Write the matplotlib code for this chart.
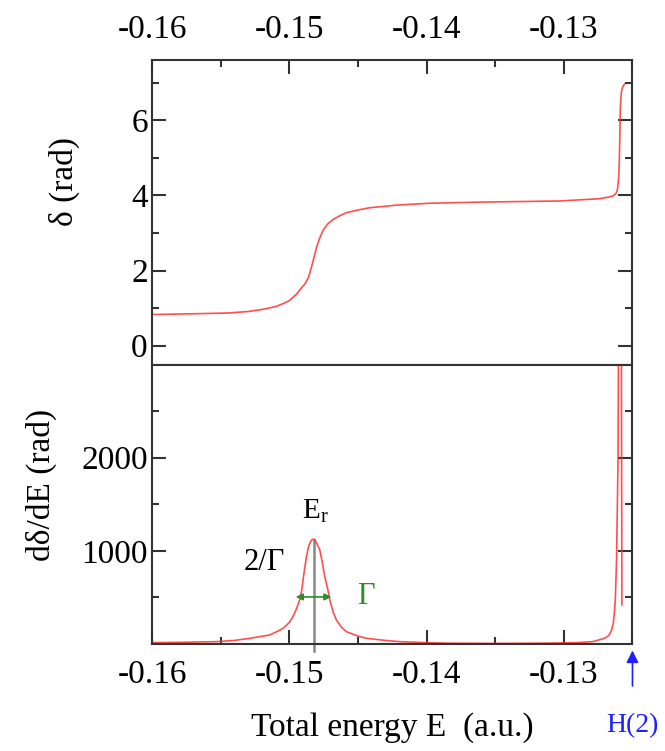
import matplotlib
matplotlib.use("Agg")
import matplotlib.pyplot as plt
from matplotlib.ticker import MultipleLocator, FixedLocator

plt.rcParams['font.family'] = ['Liberation Serif', 'DejaVu Serif']
plt.rcParams['mathtext.fontset'] = 'custom'
plt.rcParams['mathtext.rm'] = 'Liberation Serif'
plt.rcParams['mathtext.it'] = 'Liberation Serif'

# phase shift (top panel)
E_phase = [-0.1600, -0.1570, -0.1545, -0.1530, -0.1519, -0.1510, -0.15045,
           -0.1500, -0.14948, -0.1492, -0.14887, -0.1486, -0.14839, -0.1482,
           -0.14802, -0.1478, -0.14754, -0.1472, -0.14681, -0.1463, -0.14584,
           -0.1450, -0.14415, -0.1430, -0.1422, -0.13978, -0.13615, -0.13033,
           -0.12742, -0.12680, -0.12645, -0.12620, -0.12609, -0.12600, -0.12596,
           -0.12592, -0.12589, -0.12585, -0.12580, -0.12570, -0.12555]
delta = [0.83, 0.85, 0.87, 0.91, 0.97, 1.04, 1.12,
         1.20, 1.37, 1.50, 1.64, 1.82, 2.08, 2.35,
         2.61, 2.85, 3.07, 3.24, 3.36, 3.46, 3.54,
         3.61, 3.67, 3.71, 3.74, 3.79, 3.82, 3.85,
         3.91, 3.95, 3.98, 4.05, 4.16, 4.50, 4.91,
         5.60, 6.24, 6.55, 6.77, 6.90, 6.97]

# derivative d(delta)/dE (bottom panel)
E_deriv = [-0.1600, -0.1580, -0.1553, -0.1540, -0.15287, -0.15142, -0.1508,
           -0.15045, -0.1500, -0.14973, -0.1495, -0.14924, -0.1491, -0.1490,
           -0.14888, -0.14875, -0.14862, -0.14851, -0.14838, -0.14827, -0.14815,
           -0.1480, -0.14778, -0.1476, -0.14742, -0.1472, -0.14705, -0.1468,
           -0.14657, -0.1462, -0.14584, -0.1450, -0.14438, -0.1430, -0.14196,
           -0.1400, -0.13833, -0.1350, -0.1320, -0.1305, -0.12911, -0.12791,
           -0.12718, -0.12690, -0.12669, -0.12652, -0.1264, -0.12632, -0.12625,
           -0.12616, -0.12605, -0.12595, -0.12585, -0.12577]
dddE = [15, 18, 25, 38, 61, 97, 140,
        168, 230, 294, 370, 473, 570, 688,
        810, 939, 1030, 1083, 1115, 1126, 1120,
        1080, 1011, 880, 724, 590, 473, 340,
        258, 180, 132, 85, 61, 38, 25,
        14, 8, 6, 8, 10, 14, 25,
        54, 72, 97, 150, 222, 330, 473,
        903, 2000, 6000, 6000, 420]

E_r = -0.1482
peak = 1120
gamma_left = -0.14953
gamma_right = -0.14693
gamma_y = 505

xticks = [-0.16, -0.15, -0.14, -0.13]
xlabels = ['-0.16', '-0.15', '-0.14', '-0.13']

fig = plt.figure(figsize=(6.65, 7.51), dpi=100)
ax1 = fig.add_axes([0.2286, 0.5146, 0.7225, 0.4055])
ax2 = fig.add_axes([0.2286, 0.1425, 0.7225, 0.3721])

red = '#ff3030'
for ax in (ax1, ax2):
    ax.set_xlim(-0.16, -0.125)
    ax.xaxis.set_major_locator(FixedLocator(xticks))
    ax.xaxis.set_minor_locator(MultipleLocator(0.005))
    for s in ax.spines.values():
        s.set_linewidth(1.5)
        s.set_color('#333333')
    ax.tick_params(which='both', direction='in', color='#333333', width=1.5,
                   labelsize=24)
    ax.tick_params(axis='x', pad=11)
    ax.tick_params(axis='y', pad=3)
    ax.tick_params(which='major', length=10)
    ax.tick_params(which='minor', length=5)

ax1.plot(E_phase, delta, color=red, lw=1.2, alpha=0.85)
ax1.set_ylim(-0.5, 7.6)
ax1.yaxis.set_major_locator(FixedLocator([0, 2, 4, 6]))
ax1.yaxis.set_minor_locator(FixedLocator([1, 3, 5, 7]))
ax1.tick_params(which='both', top=True, bottom=False, left=True, right=True,
                labeltop=True, labelbottom=False)
ax1.set_xticklabels(xlabels)
ax1.set_ylabel('δ (rad)', fontsize=24)
ax1.yaxis.set_label_coords(-0.15, 0.6)

ax2.plot(E_deriv, dddE, color=red, lw=1.2, alpha=0.85)
ax2.set_ylim(0, 3000)
ax2.yaxis.set_major_locator(FixedLocator([1000, 2000]))
ax2.yaxis.set_minor_locator(FixedLocator([500, 1500, 2500]))
ax2.tick_params(which='both', top=False, bottom=True, left=True, right=True)
ax2.set_xticklabels(xlabels)
ax2.set_ylabel('dδ/dE (rad)', fontsize=24)
ax2.yaxis.set_label_coords(-0.198, 0.57)
ax2.set_xlabel('Total energy E  (a.u.)', fontsize=24, labelpad=16)

# resonance annotations
ax2.plot([E_r, E_r], [-80, peak], color='#888888', lw=1.8, clip_on=False, zorder=1)
ax2.annotate('', xy=(gamma_left, gamma_y), xytext=(gamma_right, gamma_y),
             arrowprops=dict(arrowstyle='<|-|>', color='#2e8b2e', lw=1.2,
                             mutation_scale=10, shrinkA=0, shrinkB=0))
ax2.text(E_r + 0.0001, 1420, r'E$_\mathrm{r}$', fontsize=21, ha='center', va='center')
ax2.text(-0.1518, 871, '2/Γ', fontsize=22, ha='center', va='center')
ax2.text(-0.14444, 505, 'Γ', fontsize=22, ha='center', va='center', color='#2e8b2e')

# H(2) marker below the axis
ax2.annotate('', xy=(-0.125, -40), xytext=(-0.125, -480),
             xycoords='data', arrowprops=dict(arrowstyle='-|>', color='#2020ff',
                                              lw=1.2, mutation_scale=18),
             annotation_clip=False)
ax2.text(-0.125, -880, 'H(2)', fontsize=20, color='#2020ff', ha='center',
         va='center', clip_on=False)

fig.savefig('out.png', dpi=100)
